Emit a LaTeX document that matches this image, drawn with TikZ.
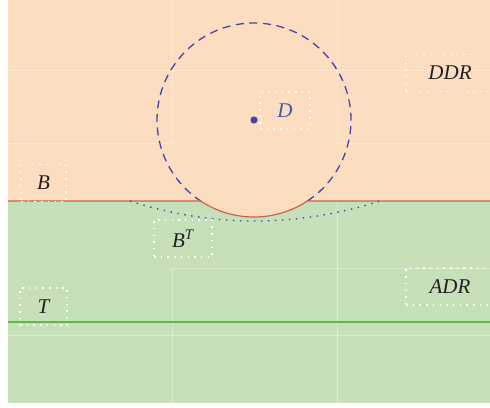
\documentclass[tikz,border=0pt]{standalone}
\usepackage{fontspec}
\setmainfont{Liberation Serif}
\usepackage{tikz}
\usepackage{xcolor}
\usetikzlibrary{positioning, calc}
\definecolor{DrainOrange}{HTML}{FDDDC0}
\definecolor{AquiferGreen}{HTML}{C6E1B9}
\definecolor{EdgeRed}{HTML}{DD5A47}
\definecolor{TableGreen}{HTML}{62B845}
\definecolor{CircleBlue}{HTML}{3F47A6}
\definecolor{LabelBlue}{HTML}{4A58AC}
\definecolor{LabelDark}{HTML}{222222}

\begin{document}
\begin{tikzpicture}[x=0.5pt, y=0.5pt,
    labelbox/.style={draw=white, line width=0.75pt, dash pattern=on 0.75pt off 2.6pt,
        minimum height=18.5pt, inner sep=0pt, text=LabelDark,
        font=\fontsize{10.5}{12}\selectfont\itshape},
    seam/.style={white, opacity=0.35, line width=0.5pt}]
        \useasboundingbox (0,0) rectangle (490,407);

        % Regions
        \fill[AquiferGreen] (8,4) rectangle (490,206);
        \fill[DrainOrange] (8,407) -- (490,407) -- (490,206) -- (307.4,206)
            arc[start angle=-56.6, end angle=-123.4, radius=97] -- (8,206) -- cycle;

        % Seams
        \foreach \a/\b in {{8,336}/{490,336}, {8,263}/{172,263}, {337,263}/{490,263},
            {172,407}/{172,263}, {337,407}/{337,263}, {172,139}/{490,139},
            {8,72}/{490,72}, {172,139}/{172,4}, {337,205}/{337,4}} {
            \draw[seam] (\a) -- (\b);
        }

        % Water table
        \draw[TableGreen, line width=0.85pt] (8,85) -- (490,85);

        % Drain
        \coordinate (drain) at (254,287);
        \draw[CircleBlue, line width=0.65pt, dash pattern=on 4pt off 2.8pt]
            (307.4,206) arc[start angle=-56.6, end angle=236.6, radius=97];
        \fill[CircleBlue] (drain) circle[radius=3.6];

        % Boundary
        \draw[EdgeRed, line width=0.6pt] (8,206) -- (200.6,206)
            arc[start angle=-123.4, end angle=-56.6, radius=97] -- (490,206);
        \draw[CircleBlue, line width=0.7pt, dash pattern=on 0.7pt off 2.8pt]
            (130,206) .. controls (212.7,179.3) and (296,179.3) .. (380,206);

        % Labels
        \node[labelbox, minimum width=22.5pt] (B) at (43.5,224) {B};
        \node[labelbox, minimum width=25pt, text=LabelBlue] (D) at (285,296.5) {D};
        \node[labelbox, minimum width=44pt] (DDR) at (450,334) {DDR};
        \node[labelbox, minimum width=29pt] (BT) at (183,168.5) {B\textsuperscript{T}};
        \node[labelbox, minimum width=23.5pt] (T) at (43.5,100.5) {T};
        \node[labelbox, minimum width=44pt] (ADR) at (450,120.5) {ADR};

    \end{tikzpicture}
\end{document}
